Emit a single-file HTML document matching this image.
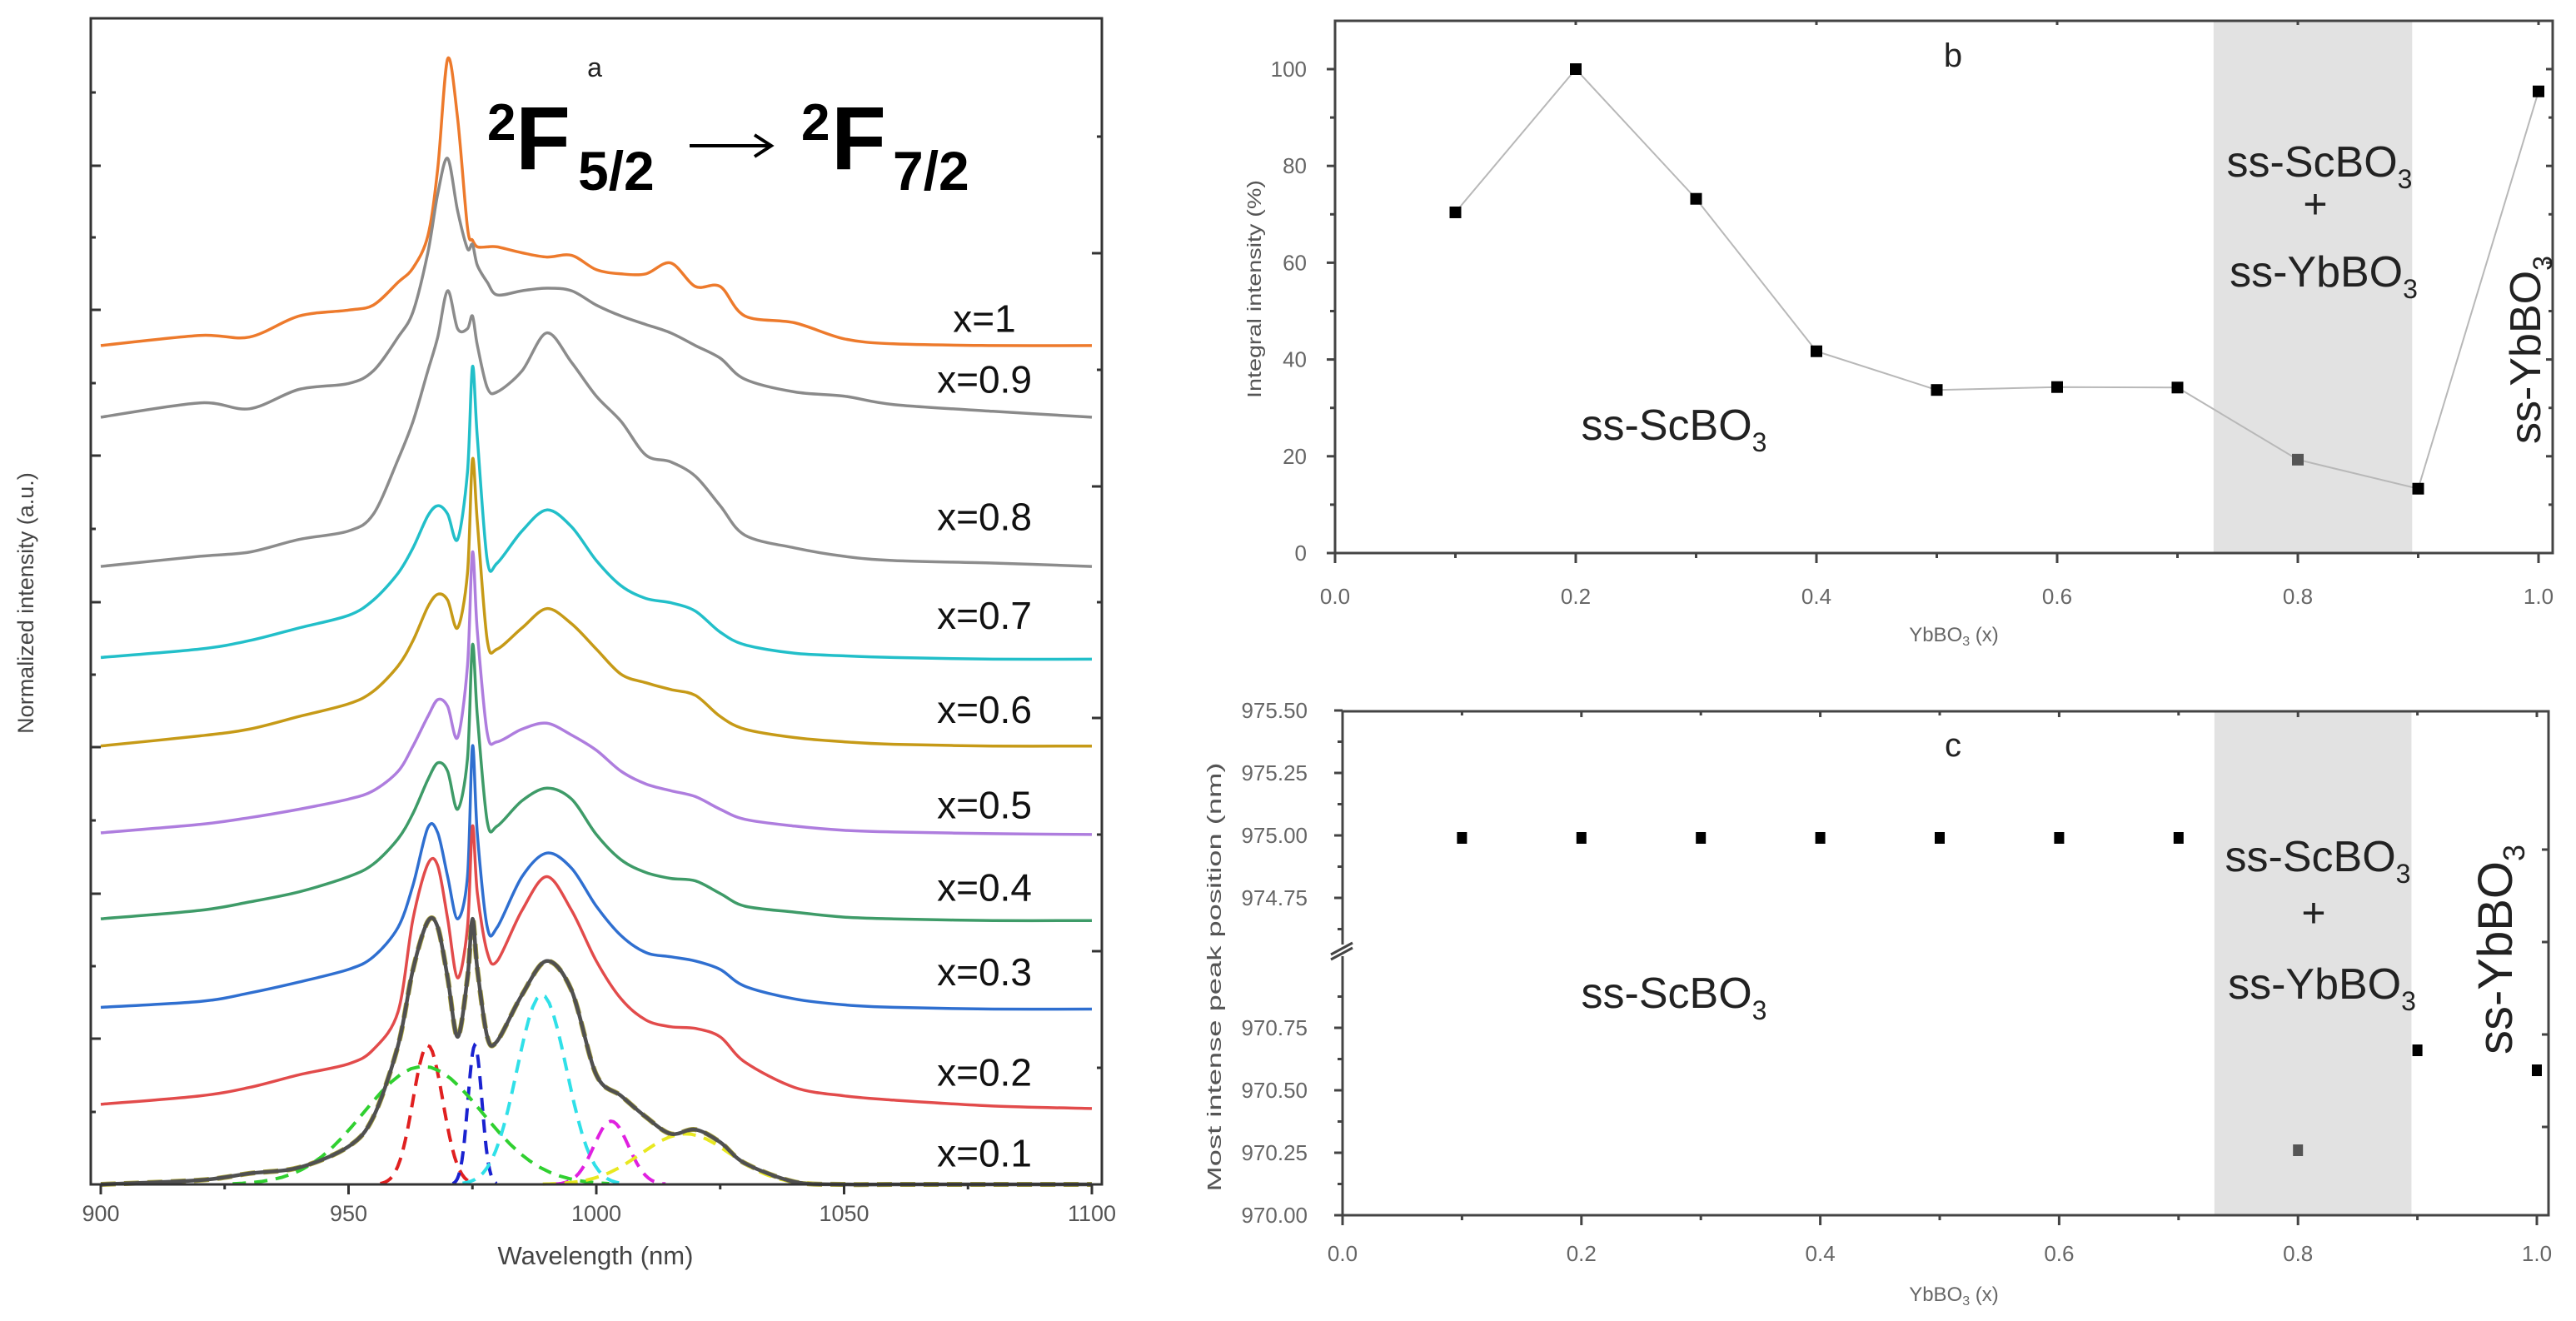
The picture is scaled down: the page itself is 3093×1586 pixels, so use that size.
<!DOCTYPE html>
<html><head><meta charset="utf-8">
<style>
html,body{margin:0;padding:0;background:#fff;}
svg{display:block;font-family:"Liberation Sans",sans-serif;}
</style></head>
<body>
<svg id="fig" width="3093" height="1586" viewBox="0 0 3093 1586" xmlns="http://www.w3.org/2000/svg">
<rect x="0" y="0" width="3093" height="1586" fill="#fff"/>
<g id="pa"></g>
<g id="pb"></g>
<g id="pc"></g>
</svg>
<script>
// ---------- Panel a data ----------
const wavelengths = [900,920,930,940,950,955,960,963,966,968,970,972,974,975,976,978,980,985,990,995,1000,1005,1010,1015,1020,1025,1030,1040,1050,1060,1080,1100];
const seriesLabels = ["x=1","x=0.9","x=0.8","x=0.7","x=0.6","x=0.5","x=0.4","x=0.3","x=0.2","x=0.1"];
const sX10 = [995,1007,1005,1030,1037,1043,1070,1087,1125,1205,1335,1265,1135,1120,1112,1112,1112,1105,1100,1102,1085,1080,1080,1093,1065,1065,1030,1022,1003,997,995,995];
const sX09 = [910,927,920,943,950,965,1005,1035,1105,1175,1217,1155,1110,1115,1090,1070,1055,1060,1063,1060,1043,1030,1020,1010,995,980,955,940,935,925,917,910];
const sX08 = [733,745,750,765,775,795,860,905,965,1005,1060,1015,1015,1030,995,945,940,965,1010,975,935,905,865,857,840,805,770,755,745,740,737,733];
const sX07 = [625,635,645,660,675,693,725,755,793,805,795,765,845,970,885,740,737,775,800,780,740,710,695,690,680,655,640,630,627,625,623,623];
const sX06 = [520,532,540,555,570,585,615,645,685,700,693,660,725,860,785,645,635,660,683,665,635,605,595,587,580,555,540,530,525,522,520,520];
const sX05 = [417,427,435,445,457,467,490,520,555,575,567,530,615,750,655,535,525,540,547,533,515,490,475,467,460,445,433,425,420,418,416,415];
const sX04 = [315,325,335,347,365,380,410,440,480,500,490,445,505,640,555,430,425,455,470,457,415,385,370,363,360,345,330,323,317,315,313,313];
const sX03 = [210,217,227,240,255,270,305,355,423,417,365,315,365,520,415,305,305,365,393,375,330,295,275,270,265,255,235,220,213,210,208,208];
const sX02 = [95,105,115,130,143,160,205,315,380,378,315,245,305,425,345,275,265,325,365,325,265,220,195,187,185,175,145,115,105,100,93,90];
const sX01 = [0,5,13,20,45,80,165,255,312,305,245,175,245,315,255,175,170,225,265,230,130,105,80,60,65,50,25,3,0,0,0,0];
const seriesColors = ["#ED7A2C","#8A8A8A","#8C8C8C","#22BFC9","#C69A17","#AE7DDE","#3E9B68","#2F6FD0","#E24B4B","#505050"];
const labelLevels = [1027,955,792,675,563,450,352,252,133,37];
// fitted components for x=0.1: centers (nm), amplitudes (a.u.), widths (nm)
const fitCenters = [966,975.5,965,989,1003,1018];
const fitAmps = [165,165,140,225,75,60];
const fitWidths = [3,1.4,12,5,3.5,9];
const fitColors = ["#E02020","#1A22D0","#30D030","#30E0E8","#E020E0","#E8E820"];

const NS="http://www.w3.org/2000/svg";
function el(tag,attrs,parent,text){const e=document.createElementNS(NS,tag);for(const k in attrs)e.setAttribute(k,attrs[k]);if(text!==undefined)e.textContent=text;parent.appendChild(e);return e;}

// ---- Panel a axes ----
const A={l:109,r:1323,t:22,b:1422};
const ax=l=>121+(l-900)*(1311-121)/200;
const ay=v=>A.b-v*1.0122;
const pa=document.getElementById('pa');
const allSeries=[sX10,sX09,sX08,sX07,sX06,sX05,sX04,sX03,sX02,sX01];
function smoothPath(xs,ys){let d="M"+xs[0]+","+ys[0];for(let i=0;i<xs.length-1;i++){const x0=xs[Math.max(i-1,0)],y0=ys[Math.max(i-1,0)],x1=xs[i],y1=ys[i],x2=xs[i+1],y2=ys[i+1],x3=xs[Math.min(i+2,xs.length-1)],y3=ys[Math.min(i+2,xs.length-1)];const t=0.16;let c1x=x1+(x2-x0)*t,c1y=y1+(y2-y0)*t,c2x=x2-(x3-x1)*t,c2y=y2-(y3-y1)*t;c1x=Math.min(Math.max(c1x,x1),x2);c2x=Math.min(Math.max(c2x,x1),x2);d+=" C"+c1x.toFixed(1)+","+c1y.toFixed(1)+" "+c2x.toFixed(1)+","+c2y.toFixed(1)+" "+x2.toFixed(1)+","+y2.toFixed(1);}return d;}
const xsA=wavelengths.map(ax);
const envelope=el('path',{d:smoothPath(xsA,sX01.map(ay)),fill:'none',stroke:'#A8A23C','stroke-width':6,'stroke-dasharray':'18 10'},pa);


fitCenters.forEach((c,k)=>{const xs=[],ys=[];for(let l=c-3.2*fitWidths[k];l<=c+3.2*fitWidths[k];l+=fitWidths[k]/6){xs.push(ax(l));ys.push(ay(fitAmps[k]*Math.exp(-0.5*((l-c)/fitWidths[k])**2)));}
 const p=el('path',{d:"M"+xs.map((x,i)=>x.toFixed(1)+","+ys[i].toFixed(1)).join(" L"),fill:'none',stroke:fitColors[k],'stroke-width':4,'stroke-dasharray':'16 10'},pa);
 
 });
allSeries.forEach((s,i)=>{const p=el('path',{d:smoothPath(xsA,s.map(ay)),fill:'none',stroke:seriesColors[i],'stroke-width':i===9?4.5:3.5,'stroke-linejoin':'round'},pa);
 
 
 const t=el('text',{x:1182,y:ay(labelLevels[i])+16,'font-size':46,'text-anchor':'middle',fill:'#111'},pa,seriesLabels[i]);
 
 });
el('rect',{x:A.l,y:A.t,width:A.r-A.l,height:A.b-A.t,fill:'none',stroke:'#333','stroke-width':3},pa);
const xTicksA=[900,950,1000,1050,1100];
xTicksA.forEach(v=>{el('line',{x1:ax(v),x2:ax(v),y1:A.b,y2:A.b+12,stroke:'#333','stroke-width':3},pa);
 const t=el('text',{x:ax(v),y:1466,'font-size':27,'text-anchor':'middle',fill:'#555'},pa,String(v));
 
 });
[925,975,1025,1075].forEach(v=>el('line',{x1:ax(v),x2:ax(v),y1:A.b,y2:A.b+6,stroke:'#333','stroke-width':3},pa));
[199,372,547,723,897,1073,1247].forEach(y=>el('line',{x1:A.l,x2:A.l+12,y1:y,y2:y,stroke:'#333','stroke-width':3},pa));
[111,285,460,635,810,985,1160,1335].forEach(y=>el('line',{x1:A.l,x2:A.l+6,y1:y,y2:y,stroke:'#333','stroke-width':3},pa));
[304,584,862,1142].forEach(y=>el('line',{x1:A.r-12,x2:A.r,y1:y,y2:y,stroke:'#333','stroke-width':3},pa));
[164,444,723,1002,1282].forEach(y=>el('line',{x1:A.r-6,x2:A.r,y1:y,y2:y,stroke:'#333','stroke-width':3},pa));
let t;
t=el('text',{x:715,y:1518,'font-size':31,'text-anchor':'middle',fill:'#444'},pa,'Wavelength (nm)');

t=el('text',{x:0,y:0,'font-size':27,'text-anchor':'middle',fill:'#444',transform:'translate(40,724) rotate(-90)'},pa,'Normalized intensity (a.u.)');

t=el('text',{x:714,y:92,'font-size':32,'text-anchor':'middle',fill:'#222'},pa,'a');

const tg=el('g',{'font-weight':'bold',fill:'#000'},pa);


el('text',{x:585,y:168,'font-size':62},tg,'2');
el('text',{x:619,y:203,'font-size':108},tg,'F');
el('text',{x:694,y:228,'font-size':66},tg,'5/2');
el('text',{x:962,y:168,'font-size':62},tg,'2');
el('text',{x:998,y:203,'font-size':108},tg,'F');
el('text',{x:1072,y:228,'font-size':66},tg,'7/2');
el('line',{x1:828,y1:175,x2:924,y2:175,stroke:'#000','stroke-width':4},tg);
el('path',{d:'M906,162 L926,175 L906,188',fill:'none',stroke:'#000','stroke-width':4},tg);

// ---------- Panel b data ----------
const bX=[0.1,0.2,0.3,0.4,0.5,0.6,0.7,0.8,0.9,1.0];
const bIntensity=[70.4,100,73.2,41.7,33.7,34.3,34.2,19.3,13.3,95.4];
const bYTicks=[0,20,40,60,80,100];
const xTicks=[0.0,0.2,0.4,0.6,0.8,1.0];
const shadeRange=[0.73,0.895];
const B={l:1603,r:3065,t:25,b:664};
const bx=v=>1603+v*1445;
const by=v=>664-v*5.81;
const pb=document.getElementById('pb');
el('rect',{x:bx(shadeRange[0]),y:B.t,width:bx(shadeRange[1])-bx(shadeRange[0]),height:B.b-B.t,fill:'#E2E2E2'},pb);
el('polyline',{points:bX.map((x,i)=>bx(x)+","+by(bIntensity[i])).join(" "),fill:'none',stroke:'#B8B8B8','stroke-width':2},pb);
bX.forEach((x,i)=>{const r=el('rect',{x:bx(x)-7,y:by(bIntensity[i])-7,width:14,height:14,fill:i===7?'#555':'#000'},pb);
 
 });
el('rect',{x:B.l,y:B.t,width:B.r-B.l,height:B.b-B.t,fill:'none',stroke:'#444','stroke-width':3},pb);
bYTicks.forEach(v=>{el('line',{x1:B.l-10,x2:B.l,y1:by(v),y2:by(v),stroke:'#444','stroke-width':3},pb);
 el('line',{x1:B.r-8,x2:B.r,y1:by(v),y2:by(v),stroke:'#444','stroke-width':3},pb);
 const tt=el('text',{x:1569,y:by(v)+9,'font-size':26,'text-anchor':'end',fill:'#666'},pb,String(v));
 
 });
[10,30,50,70,90].forEach(v=>{el('line',{x1:B.l-6,x2:B.l,y1:by(v),y2:by(v),stroke:'#444','stroke-width':3},pb);el('line',{x1:B.r-5,x2:B.r,y1:by(v),y2:by(v),stroke:'#444','stroke-width':3},pb);});
xTicks.forEach(v=>{el('line',{x1:bx(v),x2:bx(v),y1:B.b,y2:B.b+12,stroke:'#444','stroke-width':3},pb);
 el('line',{x1:bx(v),x2:bx(v),y1:B.t,y2:B.t+5,stroke:'#444','stroke-width':3},pb);
 const tt=el('text',{x:bx(v),y:725,'font-size':26,'text-anchor':'middle',fill:'#666'},pb,v.toFixed(1));
 
 });
[0.1,0.3,0.5,0.7,0.9].forEach(v=>el('line',{x1:bx(v),x2:bx(v),y1:B.b,y2:B.b+6,stroke:'#444','stroke-width':3},pb));
t=el('text',{x:2346,y:770,'font-size':24,'text-anchor':'middle',fill:'#666'},pb);t.innerHTML='YbBO<tspan font-size="16" dy="5">3</tspan><tspan dy="-5"> (x)</tspan>';

t=el('text',{x:0,y:0,'font-size':23,'text-anchor':'middle',fill:'#555',textLength:262,lengthAdjust:'spacingAndGlyphs',transform:'translate(1514,347) rotate(-90)'},pb,'Integral intensity (%)');

t=el('text',{x:2345,y:80,'font-size':40,'text-anchor':'middle',fill:'#222'},pb,'b');

function phaseLabel(parent,x,y,name,anchor,rot,fs){fs=fs||52;const g=el('text',{x:x,y:y,'font-size':fs,'text-anchor':anchor,fill:'#222',transform:rot?('rotate(-90 '+x+' '+y+')'):''},parent);g.innerHTML=name+'<tspan font-size="'+Math.round(fs*0.62)+'" dy="'+Math.round(fs*0.26)+'">3</tspan>';return g;}
t=phaseLabel(pb,2010,528,'ss-ScBO','middle');
t=phaseLabel(pb,2785,212,'ss-ScBO','middle');
t=el('text',{x:2780,y:262,'font-size':50,'text-anchor':'middle',fill:'#222'},pb,'+');
t=phaseLabel(pb,2790,344,'ss-YbBO','middle');
t=phaseLabel(pb,3050,420,'ss-YbBO','middle',true,52);

// ---------- Panel c data ----------
const cX=[0.1,0.2,0.3,0.4,0.5,0.6,0.7,0.8,0.9,1.0];
const cPeak=[974.99,974.99,974.99,974.99,974.99,974.99,974.99,970.26,970.66,970.58];
const cYTicksUpper=[975.50,975.25,975.00,974.75];
const cYTicksLower=[970.75,970.50,970.25,970.00];
const C={l:1612,r:3060,t:854,b:1459};
const cx=v=>1612+v*1434;
const cy=v=>v>=973?(1003-(v-975)*300):(1459-(v-970)*300);
const pc=document.getElementById('pc');
el('rect',{x:cx(shadeRange[0]),y:C.t,width:cx(shadeRange[1])-cx(shadeRange[0]),height:C.b-C.t,fill:'#E2E2E2'},pc);
cX.forEach((x,i)=>{const r=el('rect',{x:cx(x)-6,y:cy(cPeak[i])-7,width:12,height:14,fill:i===7?'#555':'#000'},pc);
 
 });
el('rect',{x:C.l,y:C.t,width:C.r-C.l,height:C.b-C.t,fill:'none',stroke:'#444','stroke-width':3},pc);
cYTicksUpper.concat(cYTicksLower).forEach(v=>{el('line',{x1:C.l-10,x2:C.l,y1:cy(v),y2:cy(v),stroke:'#444','stroke-width':3},pc);
 const tt=el('text',{x:1570,y:cy(v)+9,'font-size':26,'text-anchor':'end',fill:'#666'},pc,v.toFixed(2));
 
 });
[975.375,975.125,974.875,974.625,970.875,970.625,970.375,970.125].forEach(v=>el('line',{x1:C.l-6,x2:C.l,y1:cy(v),y2:cy(v),stroke:'#444','stroke-width':3},pc));
[1020,1131,1242,1353].forEach(y=>el('line',{x1:C.r-8,x2:C.r,y1:y,y2:y,stroke:'#444','stroke-width':3},pc));
el('rect',{x:C.l-14,y:1134,width:28,height:14,fill:'#fff'},pc);
el('line',{x1:C.l-14,y1:1146,x2:C.l+12,y2:1132,stroke:'#444','stroke-width':3},pc);
el('line',{x1:C.l-14,y1:1152,x2:C.l+12,y2:1138,stroke:'#444','stroke-width':3},pc);
xTicks.forEach(v=>{el('line',{x1:cx(v),x2:cx(v),y1:C.b,y2:C.b+12,stroke:'#444','stroke-width':3},pc);
 el('line',{x1:cx(v),x2:cx(v),y1:C.t,y2:C.t+7,stroke:'#444','stroke-width':3},pc);
 const tt=el('text',{x:cx(v),y:1514,'font-size':26,'text-anchor':'middle',fill:'#666'},pc,v.toFixed(1));
 
 });
[0.1,0.3,0.5,0.7,0.9].forEach(v=>{el('line',{x1:cx(v),x2:cx(v),y1:C.b,y2:C.b+6,stroke:'#444','stroke-width':3},pc);el('line',{x1:cx(v),x2:cx(v),y1:C.t,y2:C.t+5,stroke:'#444','stroke-width':3},pc);});
t=el('text',{x:2346,y:1562,'font-size':24,'text-anchor':'middle',fill:'#666'},pc);t.innerHTML='YbBO<tspan font-size="16" dy="5">3</tspan><tspan dy="-5"> (x)</tspan>';

t=el('text',{x:0,y:0,'font-size':23,'text-anchor':'middle',fill:'#555',textLength:515,lengthAdjust:'spacingAndGlyphs',transform:'translate(1466,1173) rotate(-90)'},pc,'Most intense peak position (nm)');

t=el('text',{x:2345,y:908,'font-size':40,'text-anchor':'middle',fill:'#222'},pc,'c');

t=phaseLabel(pc,2010,1210,'ss-ScBO','middle');
t=phaseLabel(pc,2783,1046,'ss-ScBO','middle');
t=el('text',{x:2778,y:1113,'font-size':50,'text-anchor':'middle',fill:'#222'},pc,'+');
t=phaseLabel(pc,2788,1199,'ss-YbBO','middle');
t=phaseLabel(pc,3016,1140,'ss-YbBO','middle',true,58);
</script>
</body></html>
